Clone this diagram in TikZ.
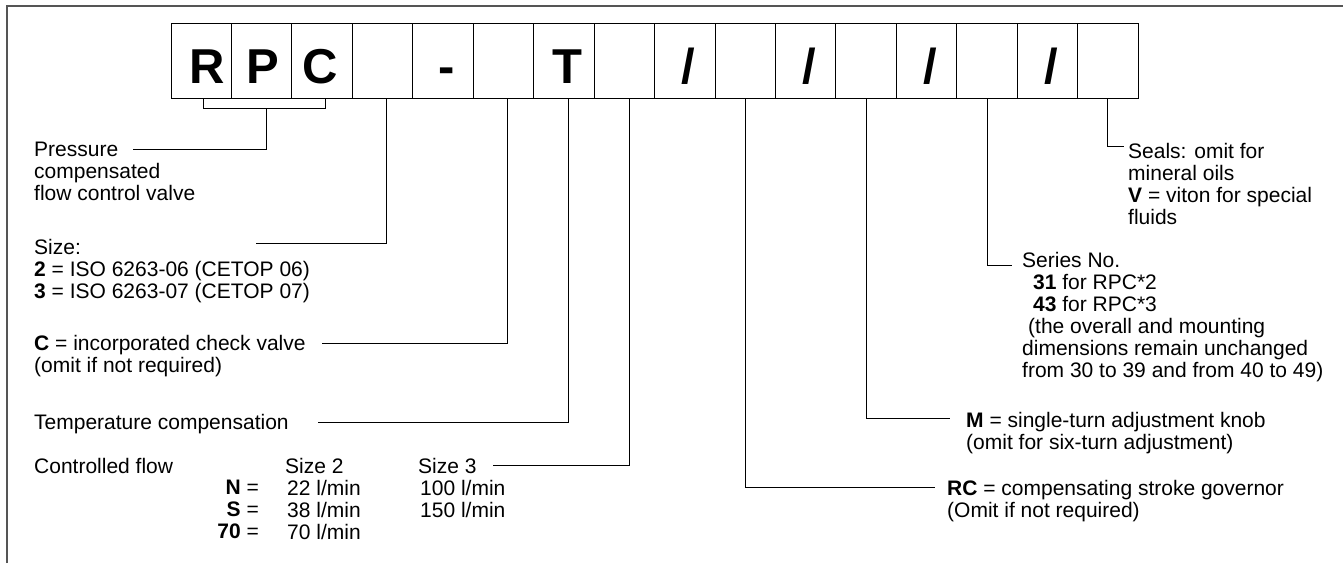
\documentclass[tikz,border=0pt]{standalone}
\usepackage{fontspec}
\setmainfont{Liberation Sans}
\definecolor{framegray}{RGB}{85,85,85}
\begin{document}
\begin{tikzpicture}[x=1pt,y=-1pt,
  cell/.style={draw=black,line width=0.8pt,minimum width=60.44pt,minimum height=75pt,inner sep=0pt,outer sep=0pt},
  glyph/.style={anchor=base,inner sep=0pt,font=\fontsize{49}{49}\selectfont\bfseries},
  conn/.style={draw=black,line width=0.9pt},
  txt/.style={anchor=north west,inner sep=0pt,align=left,font=\fontsize{21}{22}\selectfont},
  txtr/.style={anchor=north east,inner sep=0pt,align=right,font=\fontsize{21}{22}\selectfont},
  frame/.style={draw=framegray,line width=1.8pt}]
\useasboundingbox (0,0) rectangle (1343,563);
% outer frame (left and top edges visible)
\draw[frame] (7,563) -- (7,6) -- (1343,6);
% code boxes
\foreach \i in {1,...,16}
  \node[cell] (b\i) at ({171+60.44*(\i-0.5)},60.5) {};
% glyphs in boxes
\node[glyph] (gR) at ([xshift=6pt,yshift=15pt]b1.south) {R};
\node[glyph] (gP) at ([xshift=1pt,yshift=15pt]b2.south) {P};
\node[glyph] (gC) at ([xshift=-2pt,yshift=15pt]b3.south) {C};
\node[glyph] (gd) at ([xshift=4pt,yshift=15pt]b5.south) {-};
\node[glyph] (gT) at ([xshift=4pt,yshift=15pt]b7.south) {T};
\node[glyph] (gs1) at ([xshift=4pt,yshift=15pt]b9.south) {/};
\node[glyph] (gs2) at ([xshift=4pt,yshift=15pt]b11.south) {/};
\node[glyph] (gs3) at ([xshift=4pt,yshift=15pt]b13.south) {/};
\node[glyph] (gs4) at ([xshift=4pt,yshift=15pt]b15.south) {/};
% texts
\node[txt] (press) at (34,142.3) {Pressure\\compensated\\flow control valve};
\node[txt] (size) at (34,239.3) {Size:\\\textbf{2} = ISO 6263-06 (CETOP 06)\\\textbf{3} = ISO 6263-07 (CETOP 07)};
\node[txt] (check) at (34,335.3) {\textbf{C} = incorporated check valve\\(omit if not required)};
\node[txt] (temp) at (34,414.3) {Temperature compensation};
\node[txt] (flow) at (34,458.3) {Controlled flow};
\node[txtr] (keys) at (259,480.3) {\textbf{N} =\\\textbf{S} =\\\textbf{70} =};
\node[txt] (sz2) at (285,458.3) {Size 2\\\hspace*{2pt}22 l/min\\\hspace*{2pt}38 l/min\\\hspace*{2pt}70 l/min};
\node[txt] (sz3) at (418,458.3) {Size 3\\\hspace*{2pt}100 l/min\\\hspace*{2pt}150 l/min};
\node[txt] (rc) at (947,480.3) {\textbf{RC} = compensating stroke governor\\(Omit if not required)};
\node[txt] (knob) at (966,412.3) {\textbf{M} = single-turn adjustment knob\\(omit for six-turn adjustment)};
\node[txt] (series) at (1022,252.3) {Series No.\\\hspace*{11pt}\textbf{31} for RPC*2\\\hspace*{11pt}\textbf{43} for RPC*3\\\hspace*{6pt}(the overall and mounting\\dimensions remain unchanged\\from 30 to 39 and from 40 to 49)};
\node[txt] (seals) at (1128,143.3) {Seals: omit for\\mineral oils\\\textbf{V} = viton for special\\fluids};
% connector end points
\coordinate (br) at (266,108);
\coordinate (ePress) at (133,149);
\coordinate (eSize) at (256,243);
\coordinate (eCheck) at (322,343);
\coordinate (eTemp) at (318,422);
\coordinate (eFlow) at (493,465);
\coordinate (eRC) at (935,487);
\coordinate (eKnob) at (950,418);
\coordinate (eSeries) at (1012,265);
\coordinate (eSeals) at (1124,146);
% connectors
\draw[conn] ([xshift=2pt]b1.south) -- ++(0,10) -| ([xshift=3pt]b3.south);
\draw[conn] (br) |- (ePress);
\draw[conn] ([xshift=4pt]b4.south) |- (eSize);
\draw[conn] ([xshift=4pt]b6.south) |- (eCheck);
\draw[conn] ([xshift=5pt]b7.south) |- (eTemp);
\draw[conn] ([xshift=5pt]b8.south) |- (eFlow);
\draw[conn] (b10.south) |- (eRC);
\draw[conn] (b12.south) |- (eKnob);
\draw[conn] (b14.south) |- (eSeries);
\draw[conn] (b16.south) |- (eSeals);
\end{tikzpicture}
\end{document}
